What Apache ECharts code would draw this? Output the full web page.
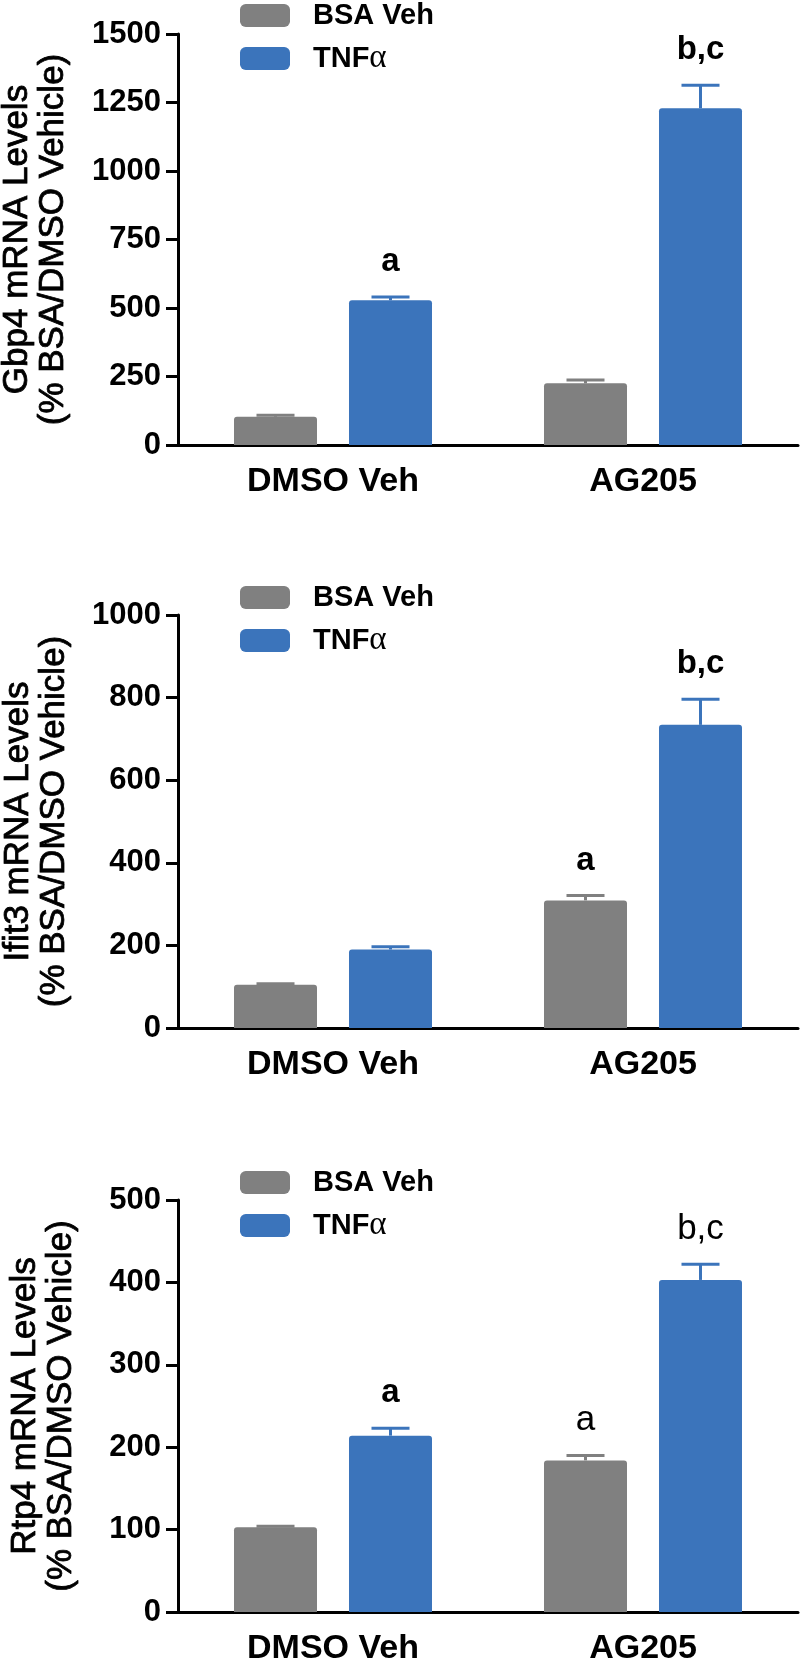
<!DOCTYPE html>
<html>
<head>
<meta charset="utf-8">
<script src="https://cdn.jsdelivr.net/npm/echarts@6/dist/echarts.min.js"></script>
<style>
html,body{margin:0;padding:0;background:#fff;}
#chart{width:800px;height:1663px;}
</style>
</head>
<body>
<div id="chart"></div>
<script>
// ---- data ----
const categories = ['DMSO Veh', 'AG205'];
const seriesNames = ['BSA Veh', 'TNFα'];

const gbp4Bsa = [103, 225];
const gbp4BsaErr = [109, 237];
const gbp4Tnf = [528, 1229];
const gbp4TnfErr = [540, 1313];
const gbp4BsaSig = ['', ''];
const gbp4TnfSig = ['a', 'b,c'];

const ifit3Bsa = [105, 309];
const ifit3BsaErr = [107, 321];
const ifit3Tnf = [190, 734];
const ifit3TnfErr = [197, 796];
const ifit3BsaSig = ['', 'a'];
const ifit3TnfSig = ['', 'b,c'];

const rtp4Bsa = [103, 184];
const rtp4BsaErr = [104, 190];
const rtp4Tnf = [214, 403];
const rtp4TnfErr = [223, 422];
const rtp4BsaSig = ['', 'a'];
const rtp4TnfSig = ['a', 'b,c'];

const yTitles = [
  'Gbp4 mRNA Levels\n(% BSA/DMSO Vehicle)',
  'Ifit3 mRNA Levels\n(% BSA/DMSO Vehicle)',
  'Rtp4 mRNA Levels\n(% BSA/DMSO Vehicle)'
];
const yMax = [1500, 1000, 500];
const yInterval = [250, 200, 100];

// ---- styling / layout ----
const FONT = 'Liberation Sans, Arial, sans-serif';
const GRAY = '#808080';
const BLUE = '#3b74bb';
const BAR_W = 83;
const BAR_GAP_PX = 32;
const CAP_HALF = 19;
const gridTops = [34, 615, 1200];
const gridHeights = [411, 413, 412];
const legendTops = [1, 583, 1168];
const nameGaps = [107, 106, 99];
// label font weights (panel 3 partly regular)
const sigWeights = [
  [['bold','bold'], ['bold','bold']],
  [['bold','bold'], ['bold','bold']],
  [['normal','normal'], ['bold','normal']]
];

const panels = [
  {bsa: gbp4Bsa, bsaErr: gbp4BsaErr, tnf: gbp4Tnf, tnfErr: gbp4TnfErr, bsaSig: gbp4BsaSig, tnfSig: gbp4TnfSig},
  {bsa: ifit3Bsa, bsaErr: ifit3BsaErr, tnf: ifit3Tnf, tnfErr: ifit3TnfErr, bsaSig: ifit3BsaSig, tnfSig: ifit3TnfSig},
  {bsa: rtp4Bsa, bsaErr: rtp4BsaErr, tnf: rtp4Tnf, tnfErr: rtp4TnfErr, bsaSig: rtp4BsaSig, tnfSig: rtp4TnfSig}
];

function errRender(sign, color, sig, weights) {
  return function (params, api) {
    const idx = api.value(0);
    const mean = api.value(1);
    const top = api.value(2);
    const c = api.coord([idx, mean]);
    const t = api.coord([idx, top]);
    const x = c[0] + sign * (BAR_W + BAR_GAP_PX) / 2;
    const children = [
      {type: 'line', shape: {x1: x, y1: c[1], x2: x, y2: t[1]}, style: {stroke: color, lineWidth: 3}},
      {type: 'line', shape: {x1: x - CAP_HALF, y1: t[1], x2: x + CAP_HALF, y2: t[1]}, style: {stroke: color, lineWidth: 3}}
    ];
    const s = sig[params.dataIndex];
    if (s) {
      const w = weights[params.dataIndex];
      children.push({
        type: 'text',
        style: {
          text: s,
          x: x, y: t[1] - 35,
          align: 'center', verticalAlign: 'middle',
          fontFamily: FONT, fontSize: w === 'bold' ? 33 : 35, fontWeight: w,
          fill: '#000'
        }
      });
    }
    return {type: 'group', children: children};
  };
}

const grid = [], xAxis = [], yAxis = [], series = [], legend = [];
panels.forEach((p, i) => {
  grid.push({left: 178, right: 2, top: gridTops[i], height: gridHeights[i], containLabel: false, outerBoundsMode: 'none'});
  xAxis.push({
    type: 'category', gridIndex: i, data: categories,
    axisLine: {show: true, lineStyle: {color: '#000', width: 3}},
    axisTick: {show: false},
    axisLabel: {color: '#000', fontFamily: FONT, fontWeight: 'bold', fontSize: 34, margin: 20}
  });
  yAxis.push({
    type: 'value', gridIndex: i, min: 0, max: yMax[i], interval: yInterval[i],
    splitLine: {show: false},
    axisLine: {show: true, lineStyle: {color: '#000', width: 3}},
    axisTick: {show: true, length: 12, lineStyle: {color: '#000', width: 3}},
    axisLabel: {color: '#000', fontFamily: FONT, fontWeight: 'bold', fontSize: 31, margin: 17,
      formatter: function (v) { return String(v); }},
    name: yTitles[i], nameLocation: 'middle', nameGap: nameGaps[i], nameRotate: 90,
    nameTextStyle: {color: '#000', fontFamily: FONT, fontSize: 35, lineHeight: 36, fontWeight: 'normal',
      textBorderColor: '#000', textBorderWidth: 0.8}
  });
  series.push({
    name: seriesNames[0], type: 'bar', xAxisIndex: i, yAxisIndex: i, data: p.bsa,
    barWidth: BAR_W, barGap: (BAR_GAP_PX / BAR_W * 100).toFixed(2) + '%',
    itemStyle: {color: GRAY, borderRadius: [3, 3, 0, 0]}
  });
  series.push({
    name: seriesNames[1], type: 'bar', xAxisIndex: i, yAxisIndex: i, data: p.tnf,
    barWidth: BAR_W, barGap: (BAR_GAP_PX / BAR_W * 100).toFixed(2) + '%',
    itemStyle: {color: BLUE, borderRadius: [3, 3, 0, 0]}
  });
  series.push({
    name: 'err-bsa-' + i, type: 'custom', xAxisIndex: i, yAxisIndex: i,
    data: categories.map((c, k) => [k, p.bsa[k], p.bsaErr[k]]),
    renderItem: errRender(-1, GRAY, p.bsaSig, sigWeights[i][0]), z: 3
  });
  series.push({
    name: 'err-tnf-' + i, type: 'custom', xAxisIndex: i, yAxisIndex: i,
    data: categories.map((c, k) => [k, p.tnf[k], p.tnfErr[k]]),
    renderItem: errRender(1, BLUE, p.tnfSig, sigWeights[i][1]), z: 3
  });
  legend.push({
    data: seriesNames, orient: 'vertical', left: 240, top: legendTops[i], padding: 0,
    itemWidth: 50, itemHeight: 23, itemGap: 12, icon: 'roundRect',
    selectedMode: false,
    formatter: function (name) {
      return name === 'TNFα' ? '{s|}{t|TNF}{g|α}' : '{s|}{t|' + name + '}';
    },
    textStyle: {
      lineHeight: 23,
      rich: {
        s: {width: 18, height: 23},
        t: {fontFamily: FONT, fontWeight: 'bold', fontSize: 29, color: '#000', lineHeight: 23},
        g: {fontFamily: 'Liberation Serif, DejaVu Serif, serif', fontWeight: 'normal', fontSize: 33, color: '#000', lineHeight: 23}
      }
    }
  });
});

const chart = echarts.init(document.getElementById('chart'), null, {renderer: 'canvas'});
chart.setOption({
  animation: false,
  backgroundColor: '#fff',
  grid: grid, xAxis: xAxis, yAxis: yAxis, series: series, legend: legend
});
</script>
</body>
</html>
